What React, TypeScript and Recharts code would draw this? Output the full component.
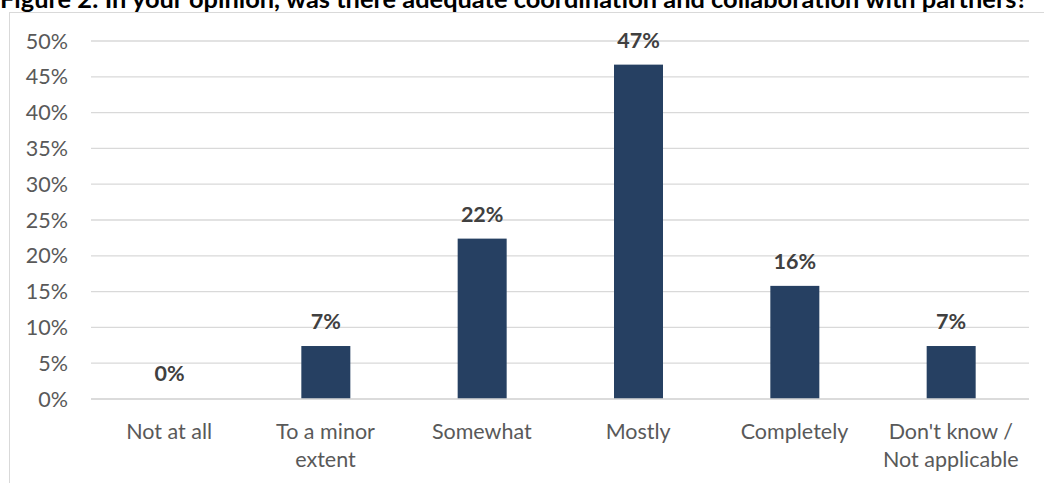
import React from "react";
import {
  BarChart,
  Bar,
  XAxis,
  YAxis,
  CartesianGrid,
  LabelList,
} from "recharts";

// categories (explicit line breaks as in the source figure)
const categories = [
  "Not at all",
  "To a minor\nextent",
  "Somewhat",
  "Mostly",
  "Completely",
  "Don't know /\nNot applicable",
];

// share of respondents, in percent
const shares = [0, 7.4, 22.4, 46.7, 15.8, 7.4];

const yTicks = [0, 5, 10, 15, 20, 25, 30, 35, 40, 45, 50];

const TITLE =
  "Figure 2: In your opinion, was there adequate coordination and collaboration with partners?";

const chartData = categories.map((name, i) => ({ name, value: shares[i] }));

const FONT = "Lato, 'Noto Sans', sans-serif";
const BAR_COLOR = "#264062";
const GRID_COLOR = "#d9d9d9";

function CategoryTick(props: any) {
  const { x, y, payload } = props;
  const lines = String(payload.value).split("\n");
  return (
    <text
      x={x}
      y={y}
      textAnchor="middle"
      fill="#595959"
      fontFamily={FONT}
      fontSize={21.5}
    >
      {lines.map((line, i) => (
        <tspan key={i} x={x} dy={i === 0 ? 40 : 27.5}>
          {line}
        </tspan>
      ))}
    </text>
  );
}

// zero-valued bars keep their label but draw no rectangle
function BarShape(props: any) {
  const { x, y, width, height, fill, value } = props;
  if (!value) return <g />;
  return <rect x={x} y={y} width={width} height={height} fill={fill} />;
}

export default function App() {
  return (
    <div
      style={{
        position: "absolute",
        left: 0,
        top: 0,
        width: 1044,
        height: 483,
        overflow: "hidden",
        background: "#ffffff",
      }}
    >
      {/* chart frame, only top and left edges are in view */}
      <div
        style={{
          position: "absolute",
          left: 9,
          top: 12,
          width: 1100,
          height: 600,
          border: `1px solid ${GRID_COLOR}`,
          boxSizing: "border-box",
        }}
      />
      <svg
        width={1044}
        height={20}
        style={{ position: "absolute", left: 0, top: 0, overflow: "visible" }}
      >
        <text x={0} y={8} fontFamily={FONT} fontWeight="bold" fontSize={25.4} fill="#000000">
          {TITLE}
        </text>
      </svg>
      <div style={{ position: "absolute", left: 0, top: 0 }}>
        <BarChart
          width={1044}
          height={483}
          data={chartData}
          margin={{ top: 41, right: 15, bottom: 0, left: 0 }}
        >
          <CartesianGrid
            vertical={false}
            stroke={GRID_COLOR}
            strokeWidth={1.3}
          />
          <XAxis
            dataKey="name"
            axisLine={{ stroke: GRID_COLOR, strokeWidth: 1.3 }}
            tickLine={false}
            tickSize={0}
            tickMargin={0}
            interval={0}
            height={84}
            tick={<CategoryTick />}
          />
          <YAxis
            width={91}
            domain={[0, 50]}
            ticks={yTicks}
            interval={0}
            axisLine={false}
            tickLine={false}
            tickSize={0}
            tickMargin={23}
            tickFormatter={(v: number) => `${v}%`}
            tick={{ fill: "#595959", fontSize: 21.5, fontFamily: FONT }}
          />
          <Bar
            dataKey="value"
            fill={BAR_COLOR}
            barSize={49}
            minPointSize={1}
            shape={<BarShape />}
            isAnimationActive={false}
          >
            <LabelList
              dataKey="value"
              position="top"
              offset={17}
              formatter={(v: any) => `${Math.round(Number(v))}%`}
              fill="#404040"
              fontWeight="bold"
              fontSize={21.5}
              fontFamily={FONT}
            />
          </Bar>
        </BarChart>
      </div>
    </div>
  );
}
